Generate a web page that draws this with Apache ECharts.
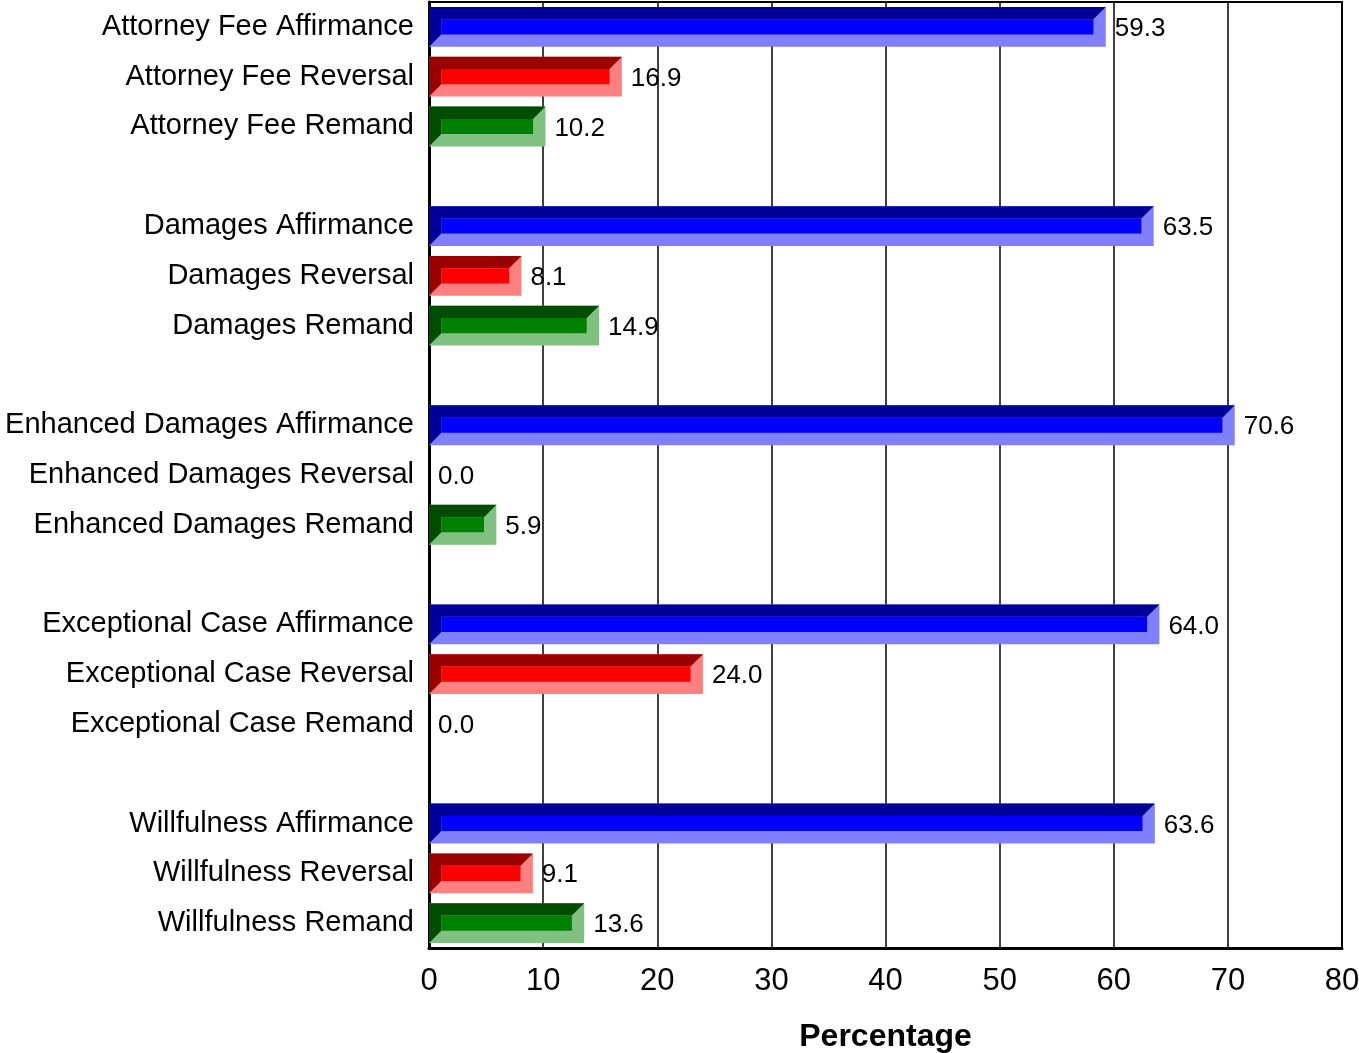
<!DOCTYPE html>
<html><head><meta charset="utf-8">
<script src="https://cdn.jsdelivr.net/npm/echarts@6/dist/echarts.min.js"></script>
<style>html,body{margin:0;padding:0;background:#fff}#c{width:1359px;height:1053px}</style>
</head><body><div id="c"></div>
<script>
var categories = [
  'Attorney Fee Affirmance','Attorney Fee Reversal','Attorney Fee Remand',' ',
  'Damages Affirmance','Damages Reversal','Damages Remand','  ',
  'Enhanced Damages Affirmance','Enhanced Damages Reversal','Enhanced Damages Remand','   ',
  'Exceptional Case Affirmance','Exceptional Case Reversal','Exceptional Case Remand','    ',
  'Willfulness Affirmance','Willfulness Reversal','Willfulness Remand'
];
var values = [59.3,16.9,10.2,null, 63.5,8.1,14.9,null, 70.6,0.0,5.9,null, 64.0,24.0,0.0,null, 63.6,9.1,13.6];
var outcomeIndex = [0,1,2,-1, 0,1,2,-1, 0,1,2,-1, 0,1,2,-1, 0,1,2];
var xTicks = [0,10,20,30,40,50,60,70,80];

var palettes = [
  {dark:'#000099', mid:'#0000ff', light:'#8080ff'},
  {dark:'#990000', mid:'#ff0000', light:'#ff8080'},
  {dark:'#004c00', mid:'#008000', light:'#80c080'}
];
var FONT = '"Liberation Sans", Arial, sans-serif';

var data = [];
values.forEach(function(v,i){ if(v!==null) data.push([v,i,outcomeIndex[i]]); });

function renderItem(params, api){
  var v = api.value(0), ci = api.value(1), pi = api.value(2);
  var p0 = api.coord([0, ci]), p1 = api.coord([v, ci]);
  var band = api.size([0,1])[1];
  var h = band*0.8;
  var x0 = p0[0], x1 = p1[0], y0 = p0[1]-h/2, y1 = p0[1]+h/2;
  var pal = palettes[pi];
  var children = [];
  var w = x1-x0;
  if (w > 0.5){
    var b = Math.min(h*0.31, w/2);
    children.push({type:'rect', shape:{x:x0,y:y0,width:w,height:h}, style:{fill:pal.light}});
    children.push({type:'polygon', shape:{points:[[x0,y0],[x1,y0],[x1-b,y0+b],[x0+b,y0+b],[x0+b,y1-b],[x0,y1]]}, style:{fill:pal.dark}});
    children.push({type:'rect', shape:{x:x0+b,y:y0+b,width:Math.max(0,w-2*b),height:h-2*b}, style:{fill:pal.mid}});
  }
  children.push({type:'text', style:{text:v.toFixed(1), x:(w>0.5?x1+9:x0+9), y:p0[1]+2, verticalAlign:'middle', align:'left', font:'26px '+FONT, fill:'#000'}});
  return {type:'group', children:children};
}

var chart = echarts.init(document.getElementById('c'));
chart.setOption({
  animation:false,
  backgroundColor:'#fff',
  grid:{left:429, right:17, top:2, bottom:105, outerBoundsMode:'none', containLabel:false, show:true, borderColor:'#000', borderWidth:2, backgroundColor:'transparent'},
  xAxis:{type:'value', min:xTicks[0], max:xTicks[xTicks.length-1], interval:10,
    name:'Percentage', nameLocation:'middle', nameGap:73,
    nameTextStyle:{fontFamily:FONT, fontSize:32, fontWeight:'bold', color:'#000'},
    axisLine:{show:true, lineStyle:{color:'#000', width:3}},
    axisTick:{show:false},
    axisLabel:{fontFamily:FONT, fontSize:31, color:'#000', margin:18},
    splitLine:{show:true, lineStyle:{color:'#000', width:1.5}}
  },
  yAxis:{type:'category', data:categories, inverse:true,
    axisLine:{show:true, lineStyle:{color:'#000', width:3}},
    axisTick:{show:false},
    axisLabel:{fontFamily:FONT, fontSize:29, color:'#000', margin:15, interval:0, padding:[4,0,0,0]},
    splitLine:{show:false}
  },
  series:[{type:'custom', renderItem:renderItem, data:data, encode:{x:0,y:1}, clip:false, z:3}]
});
</script></body></html>
